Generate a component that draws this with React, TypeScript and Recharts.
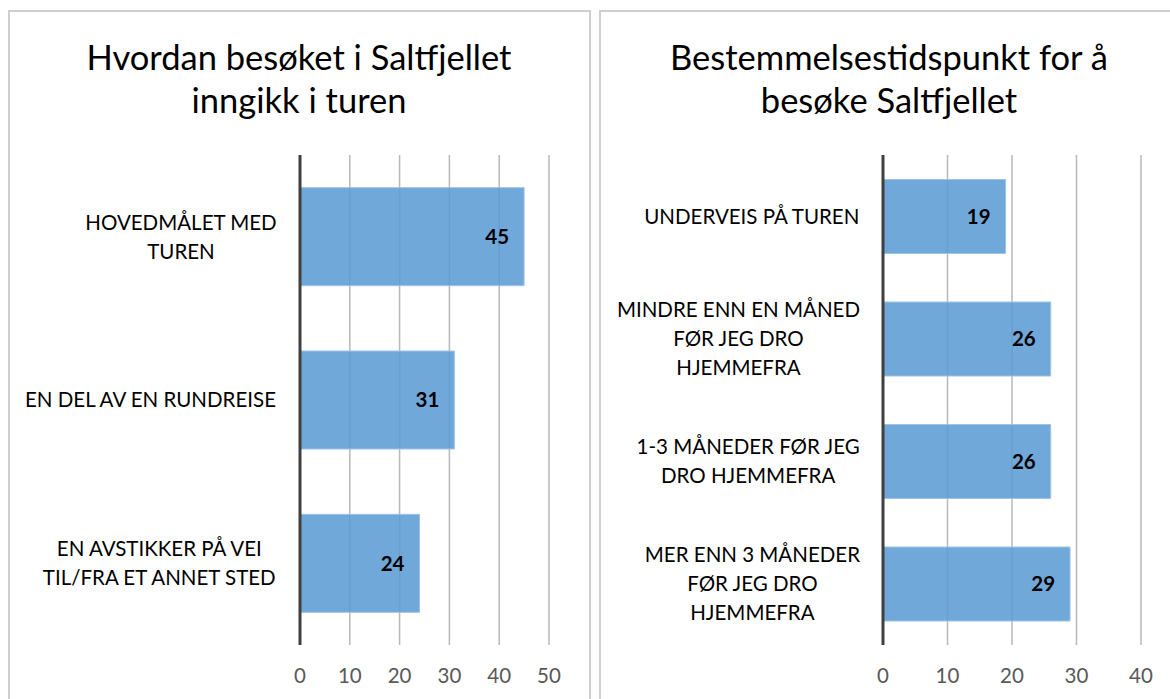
import React from 'react';
import { BarChart, Bar, XAxis, YAxis, CartesianGrid, LabelList } from 'recharts';

const leftCategories = ['HOVEDMÅLET MED\nTUREN', 'EN DEL AV EN RUNDREISE', 'EN AVSTIKKER PÅ VEI\nTIL/FRA ET ANNET STED'];
const leftValues = [45, 31, 24];
const leftTicks = [0, 10, 20, 30, 40, 50];

const rightCategories = [
  'UNDERVEIS PÅ TUREN',
  'MINDRE ENN EN MÅNED\nFØR JEG DRO\nHJEMMEFRA',
  '1-3 MÅNEDER FØR JEG\nDRO HJEMMEFRA',
  'MER ENN 3 MÅNEDER\nFØR JEG DRO\nHJEMMEFRA',
];
const rightValues = [19, 26, 26, 29];
const rightTicks = [0, 10, 20, 30, 40];

const FONT = 'Lato, "Open Sans", sans-serif';
const LABEL_SIZE = 20.5;

let canvasCtx: CanvasRenderingContext2D | null = null;
const measure = (s: string) => {
  if (!canvasCtx) canvasCtx = document.createElement('canvas').getContext('2d');
  if (!canvasCtx) return s.length * 11;
  canvasCtx.font = `${LABEL_SIZE}px ${FONT}`;
  return canvasCtx.measureText(s).width;
};

const CategoryTick = ({ y, payload, rightEdge }: any) => {
  const lines: string[] = String(payload.value).split('\n');
  const blockW = Math.max(...lines.map(measure));
  const cx = rightEdge - blockW / 2;
  const lh = 29;
  const y0 = y - ((lines.length - 1) * lh) / 2;
  return (
    <text textAnchor="middle" fontFamily={FONT} fontSize={LABEL_SIZE} fill="#000">
      {lines.map((l, i) => (
        <tspan key={i} x={cx} y={y0 + i * lh} dy="0.36em">
          {l}
        </tspan>
      ))}
    </text>
  );
};

const ValueTick = ({ x, y, payload }: any) => (
  <text x={x} y={y} dy={22} textAnchor="middle" dominantBaseline="central" fontFamily={FONT} fontSize={LABEL_SIZE} fill="#595959">
    {payload.value}
  </text>
);

const HBarChart = ({ categories, values, ticks, width, height, yWidth, right, labelGap }: any) => {
  const data = categories.map((c: string, i: number) => ({ name: c, value: values[i] }));
  return (
    <BarChart
      layout="vertical"
      width={width}
      height={height}
      data={data}
      margin={{ top: 155, right, bottom: 14, left: 0 }}
      barCategoryGap="20%"
    >
      <CartesianGrid horizontal={false} stroke="#b8b8b8" strokeWidth={1.5} />
      <XAxis
        type="number"
        domain={[0, ticks[ticks.length - 1]]}
        ticks={ticks}
        axisLine={false}
        tickLine={false}
        height={40}
        tick={<ValueTick />}
        interval={0}
      />
      <YAxis
        type="category"
        dataKey="name"
        width={yWidth}
        axisLine={{ stroke: '#404040', strokeWidth: 3 }}
        tickLine={false}
        interval={0}
        tick={<CategoryTick rightEdge={yWidth - labelGap} />}
      />
      <Bar dataKey="value" fill="#5B9BD5" fillOpacity={0.87} stroke="#9DC3E6" strokeWidth={1} isAnimationActive={false}>
        <LabelList
          dataKey="value"
          position="insideRight"
          offset={15}
          fill="#000"
          fontWeight="bold"
          fontSize={LABEL_SIZE}
          fontFamily={FONT}
        />
      </Bar>
    </BarChart>
  );
};

const titleStyle: React.CSSProperties = {
  position: 'absolute',
  fontFamily: FONT,
  fontSize: 34.5,
  lineHeight: '43px',
  color: '#000',
  textAlign: 'center',
  whiteSpace: 'nowrap',
};

export default function App() {
  return (
    <div style={{ position: 'fixed', left: 0, top: 0, width: 1170, height: 699, overflow: 'hidden', background: '#fff' }}>
      <div style={{ position: 'absolute', left: 8, top: 10, width: 583, height: 720, border: '2px solid #cfcfcf', boxSizing: 'border-box' }} />
      <div style={{ position: 'absolute', left: 599, top: 10, width: 600, height: 720, border: '2px solid #cfcfcf', boxSizing: 'border-box' }} />

      <div style={{ ...titleStyle, left: 8, width: 582, top: 35 }}>
        Hvordan besøket i Saltfjellet
        <br />
        inngikk i turen
      </div>
      <div style={{ ...titleStyle, left: 599, width: 580, top: 35 }}>
        Bestemmelsestidspunkt for å
        <br />
        besøke Saltfjellet
      </div>

      <div style={{ position: 'absolute', left: 0, top: 0 }}>
        <HBarChart
          categories={leftCategories}
          values={leftValues}
          ticks={leftTicks}
          width={590}
          height={699}
          yWidth={300}
          right={41}
          labelGap={23}
        />
      </div>
      <div style={{ position: 'absolute', left: 600, top: 0 }}>
        <HBarChart
          categories={rightCategories}
          values={rightValues}
          ticks={rightTicks}
          width={570}
          height={699}
          yWidth={283}
          right={29}
          labelGap={23}
        />
      </div>
    </div>
  );
}
